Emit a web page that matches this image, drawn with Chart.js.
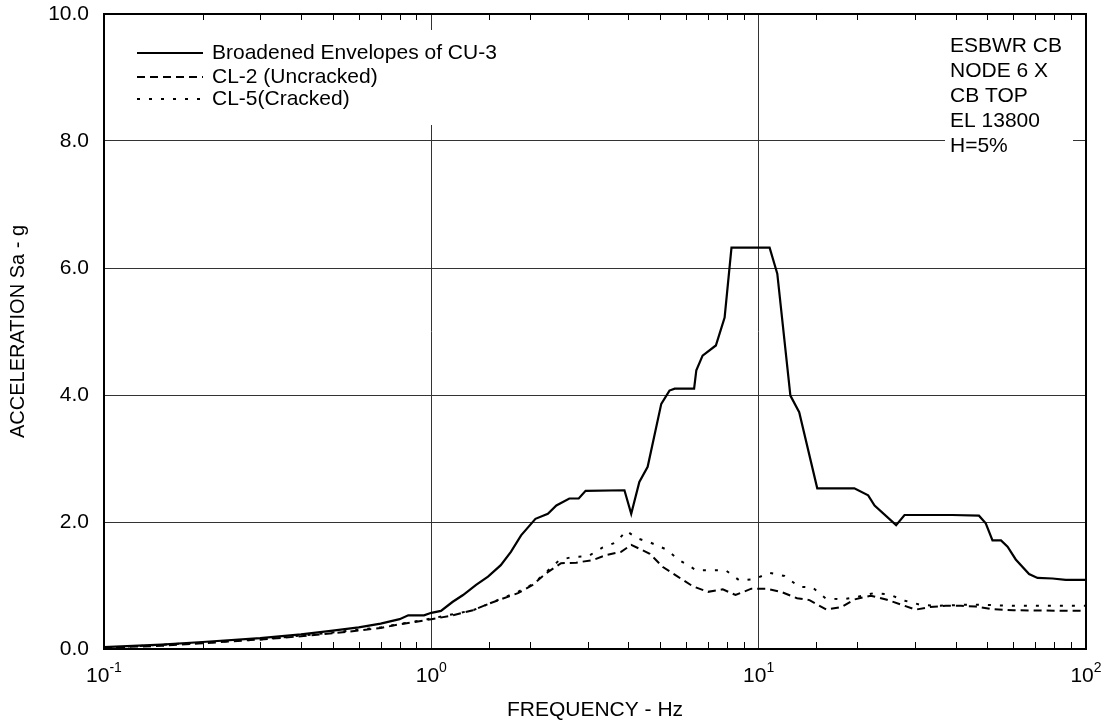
<!DOCTYPE html>
<html>
<head>
<meta charset="utf-8">
<script src="https://cdn.jsdelivr.net/npm/chart.js"></script>
<style>
  html, body { margin: 0; padding: 0; background: #fff; }
  canvas { display: block; }
</style>
</head>
<body>
<canvas id="srs" width="1108" height="728"></canvas>
<script>
// Broadened envelope of CU-3 (Hz, g)
const envFreq = [0.10, 0.15, 0.20, 0.30, 0.40, 0.50, 0.60, 0.70, 0.80, 0.85, 0.95, 1.00, 1.07, 1.16, 1.25, 1.37, 1.49, 1.63, 1.75, 1.88,
  2.08, 2.27, 2.41, 2.64, 2.82, 2.96, 3.89, 4.08, 4.32, 4.58, 5.04, 5.34, 5.54, 6.35, 6.45, 6.74, 7.40, 7.87, 8.26, 10.8,
  11.4, 12.5, 13.3, 15.1, 19.6, 21.6, 22.6, 26.3, 27.9, 39.0, 47.1, 49.4, 51.8, 55.0, 57.6, 61.0, 67.0, 71.1, 79.0, 86.7, 100];
const envAcc = [0.03, 0.07, 0.11, 0.17, 0.23, 0.29, 0.34, 0.40, 0.47, 0.53, 0.53, 0.57, 0.60, 0.74, 0.85, 1.01, 1.14, 1.32, 1.53, 1.79,
  2.05, 2.13, 2.26, 2.37, 2.37, 2.49, 2.50, 2.13, 2.63, 2.87, 3.86, 4.07, 4.10, 4.10, 4.39, 4.62, 4.78, 5.22, 6.32, 6.32,
  5.91, 3.99, 3.73, 2.53, 2.53, 2.42, 2.26, 1.95, 2.11, 2.11, 2.10, 1.98, 1.71, 1.71, 1.61, 1.41, 1.18, 1.12, 1.11, 1.09, 1.09];

// CL-2 (Uncracked)
const cl2Freq = [0.10, 0.15, 0.20, 0.30, 0.40, 0.50, 0.60, 0.70, 0.80, 0.90, 1.00, 1.14, 1.34, 1.51, 1.84, 2.04, 2.24, 2.49, 2.77, 3.11,
  3.42, 3.80, 4.08, 4.65, 5.10, 5.66, 6.28, 7.00, 7.77, 8.50, 9.50, 10.6, 11.7, 13.1, 14.3, 16.1, 17.9, 19.6, 22.0, 24.5,
  27.2, 30.2, 33.2, 37.3, 41.5, 46.0, 51.4, 60.0, 100];
const cl2Acc = [0.02, 0.05, 0.09, 0.15, 0.20, 0.25, 0.29, 0.33, 0.39, 0.43, 0.47, 0.52, 0.61, 0.72, 0.88, 1.01, 1.19, 1.35, 1.36, 1.40,
  1.48, 1.53, 1.64, 1.50, 1.29, 1.14, 0.99, 0.90, 0.94, 0.85, 0.95, 0.95, 0.90, 0.80, 0.77, 0.62, 0.66, 0.78, 0.84, 0.78,
  0.70, 0.62, 0.66, 0.68, 0.68, 0.67, 0.63, 0.61, 0.60];

// CL-5 (Cracked)
const cl5Freq = [0.10, 0.20, 0.30, 0.50, 0.70, 1.00, 1.34, 1.51, 1.84, 2.04, 2.19, 2.46, 2.70, 3.01, 3.34, 3.67, 3.94, 4.27, 4.65, 5.21,
  5.72, 6.45, 7.15, 7.93, 8.73, 9.70, 10.8, 12.0, 13.3, 14.6, 16.0, 18.0, 20.0, 22.5, 25.0, 28.0, 31.0, 35.0, 45.0, 60.0, 100];
const cl5Acc = [0.02, 0.10, 0.15, 0.26, 0.34, 0.48, 0.61, 0.72, 0.90, 1.02, 1.16, 1.40, 1.45, 1.46, 1.60, 1.68, 1.86, 1.74, 1.68, 1.57,
  1.40, 1.24, 1.24, 1.24, 1.08, 1.10, 1.20, 1.15, 0.98, 0.97, 0.80, 0.78, 0.82, 0.88, 0.86, 0.76, 0.70, 0.68, 0.70, 0.68, 0.68];

const seriesNames = ['Broadened Envelopes of CU-3', 'CL-2 (Uncracked)', 'CL-5(Cracked)'];
const decadeExps = ['-1', '0', '1', '2'];
const noteLines = ['ESBWR CB', 'NODE 6 X', 'CB TOP', 'EL 13800', 'H=5%'];

const FONT = 'Liberation Sans, Arial, sans-serif';
const dashes = [[], [8, 5], [3, 9]];

function pts(xs, ys) {
  return xs.map((f, i) => ({ x: f, y: ys[i] }));
}

function isDecade(v) {
  const e = Math.log10(v);
  return Math.abs(e - Math.round(e)) < 1e-6;
}

// frame, minor ticks, decade labels, legend and note box
const decor = {
  id: 'decor',
  afterDatasetsDraw(chart) {
    const { ctx, chartArea: a, scales } = chart;
    const x = scales.x;
    ctx.save();

    // white boxes hide the grid behind legend and note
    ctx.fillStyle = '#fff';
    ctx.fillRect(120, 30, 330, 95);
    ctx.fillRect(945, 30, 128, 130);

    ctx.strokeStyle = '#000';
    ctx.lineWidth = 1;
    x.ticks.forEach(t => {
      if (isDecade(t.value)) return;
      const px = Math.round(x.getPixelForValue(t.value)) + 0.5;
      ctx.beginPath();
      ctx.moveTo(px, a.bottom);
      ctx.lineTo(px, a.bottom - 7);
      ctx.moveTo(px, a.top);
      ctx.lineTo(px, a.top + 6);
      ctx.stroke();
    });

    ctx.lineWidth = 2;
    ctx.strokeRect(a.left, a.top, a.right - a.left, a.bottom - a.top);

    // decade labels 10^n
    ctx.fillStyle = '#000';
    ctx.textBaseline = 'alphabetic';
    ctx.textAlign = 'left';
    decadeExps.forEach(e => {
      const px = x.getPixelForValue(Math.pow(10, Number(e)));
      ctx.font = '21px ' + FONT;
      const w1 = ctx.measureText('10').width;
      ctx.font = '14px ' + FONT;
      const w2 = ctx.measureText(e).width;
      const x0 = px - (w1 + w2) / 2;
      ctx.font = '21px ' + FONT;
      ctx.fillText('10', x0, 682);
      ctx.font = '14px ' + FONT;
      ctx.fillText(e, x0 + w1, 672);
    });

    // legend
    ctx.font = '21px ' + FONT;
    ctx.textBaseline = 'middle';
    const rows = [53, 77, 99];
    seriesNames.forEach((name, i) => {
      ctx.beginPath();
      ctx.setLineDash(dashes[i]);
      ctx.lineWidth = 2;
      ctx.moveTo(137, rows[i]);
      ctx.lineTo(203, rows[i]);
      ctx.stroke();
      ctx.setLineDash([]);
      ctx.fillText(name, 212, rows[i]);
    });

    // note
    noteLines.forEach((s, i) => {
      ctx.fillText(s, 950, 46 + i * 25);
    });

    ctx.restore();
  }
};

new Chart(document.getElementById('srs'), {
  type: 'line',
  data: {
    datasets: [
      { label: seriesNames[0], data: pts(envFreq, envAcc), borderColor: '#000', borderWidth: 2.2, borderDash: dashes[0] },
      { label: seriesNames[1], data: pts(cl2Freq, cl2Acc), borderColor: '#000', borderWidth: 2, borderDash: dashes[1] },
      { label: seriesNames[2], data: pts(cl5Freq, cl5Acc), borderColor: '#000', borderWidth: 2, borderDash: dashes[2] }
    ]
  },
  options: {
    responsive: false,
    animation: false,
    devicePixelRatio: 1,
    elements: { point: { radius: 0 }, line: { tension: 0, fill: false } },
    layout: { padding: { left: 0, right: 22, top: 14, bottom: 0 } },
    plugins: { legend: { display: false }, tooltip: { enabled: false } },
    scales: {
      x: {
        type: 'logarithmic',
        min: 0.1,
        max: 100,
        afterFit: s => { s.height = 79; s.paddingLeft = 0; s.paddingRight = 0; },
        grid: {
          drawTicks: false,
          color: c => (c.tick && isDecade(c.tick.value) ? '#333' : 'rgba(0,0,0,0)'),
          lineWidth: 1
        },
        border: { display: false },
        ticks: { display: false },
        title: {
          display: true,
          text: 'FREQUENCY - Hz',
          color: '#000',
          font: { family: FONT, size: 21 },
          padding: { top: 0, bottom: 5 }
        }
      },
      y: {
        min: 0,
        max: 10,
        afterFit: s => { s.width = 104; s.paddingTop = 0; s.paddingBottom = 0; },
        grid: { drawTicks: false, color: '#333', lineWidth: 1 },
        border: { display: false },
        ticks: {
          stepSize: 2,
          padding: 15,
          color: '#000',
          font: { family: FONT, size: 21 },
          callback: v => v.toFixed(1)
        },
        title: {
          display: true,
          text: 'ACCELERATION Sa - g',
          color: '#000',
          font: { family: FONT, size: 20 },
          padding: { top: 6, bottom: 0 }
        }
      }
    }
  },
  plugins: [decor]
});
</script>
</body>
</html>
